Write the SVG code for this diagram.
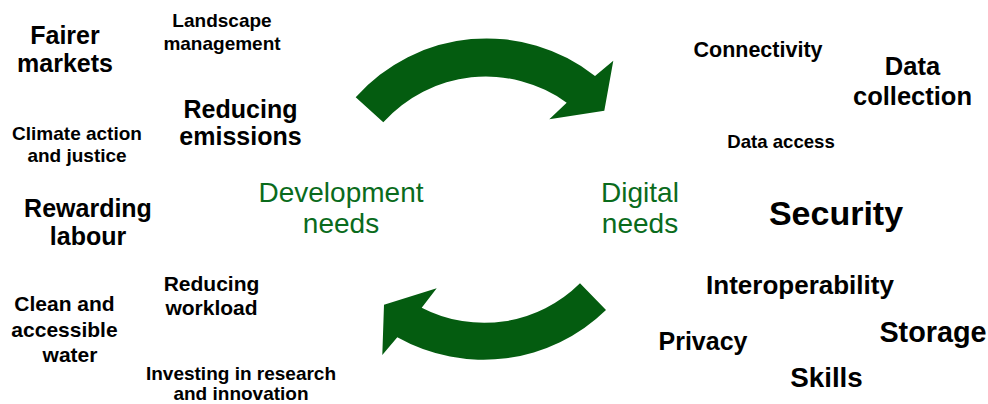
<svg xmlns="http://www.w3.org/2000/svg" width="988" height="404" viewBox="0 0 988 404">
<style>
.t{font-family:"Liberation Sans",Arial,sans-serif;font-weight:bold;fill:#000;text-anchor:middle}
.g{font-family:"Liberation Sans",Arial,sans-serif;font-size:28px;fill:#0a6b1c;text-anchor:middle}
.arrow{fill:#045c10;stroke:none}
</style>
<rect width="988" height="404" fill="#fff"/>
<g id="connectors">
<path id="arrow-top" class="arrow" d="M355.7,97.3 A175,175 0 0 1 595,76 L613.3,60.7 L604.3,110.7 L549.3,119.3 L566.7,102.7 A138,138 0 0 0 383.3,122.3 Z"/>
<path id="arrow-bottom" class="arrow" d="M580,283.3 L606,310 A176,176 0 0 1 397.3,337.3 L382.3,355 L384,304.7 L436.7,288.3 L421.7,307.7 A136,136 0 0 0 580,283.3 Z"/>
</g>
<g id="development-needs"><text class="g" x="341" y="201.5">Development</text><text class="g" x="341" y="232.5">needs</text></g>
<g id="digital-needs"><text class="g" x="640" y="201.5">Digital</text><text class="g" x="640" y="232.5">needs</text></g>
<g id="fairer-markets"><text class="t" font-size="25" x="65" y="44">Fairer</text><text class="t" font-size="25" x="65" y="72">markets</text></g>
<g id="landscape-management"><text class="t" font-size="19" x="222" y="27">Landscape</text><text class="t" font-size="19" x="222" y="50">management</text></g>
<g id="reducing-emissions"><text class="t" font-size="25" x="240.5" y="117.5">Reducing</text><text class="t" font-size="25" x="240.5" y="145">emissions</text></g>
<g id="climate-action"><text class="t" font-size="19" x="77" y="139.5">Climate action</text><text class="t" font-size="19" x="77" y="162">and justice</text></g>
<g id="rewarding-labour"><text class="t" font-size="25" x="88" y="217">Rewarding</text><text class="t" font-size="25" x="88" y="245">labour</text></g>
<g id="reducing-workload"><text class="t" font-size="21" x="211.5" y="291">Reducing</text><text class="t" font-size="21" x="211.5" y="315">workload</text></g>
<g id="clean-water"><text class="t" font-size="21" x="64.5" y="311">Clean and</text><text class="t" font-size="21" x="64.5" y="337">accessible</text><text class="t" font-size="21" x="70" y="362">water</text></g>
<g id="investing"><text class="t" font-size="19" x="241" y="380">Investing in research</text><text class="t" font-size="19" x="241" y="400">and innovation</text></g>
<g id="connectivity"><text class="t" font-size="21.5" x="758" y="57">Connectivity</text></g>
<g id="data-collection"><text class="t" font-size="25.5" x="912.5" y="75">Data</text><text class="t" font-size="25.5" x="912.5" y="105">collection</text></g>
<g id="data-access"><text class="t" font-size="18.6" x="781" y="148">Data access</text></g>
<g id="security"><text class="t" font-size="34" x="836" y="225">Security</text></g>
<g id="interoperability"><text class="t" font-size="26" x="800" y="293.5">Interoperability</text></g>
<g id="privacy"><text class="t" font-size="25" x="703" y="350">Privacy</text></g>
<g id="storage"><text class="t" font-size="28.8" x="933" y="342">Storage</text></g>
<g id="skills"><text class="t" font-size="27.8" x="826.5" y="387">Skills</text></g>
</svg>
